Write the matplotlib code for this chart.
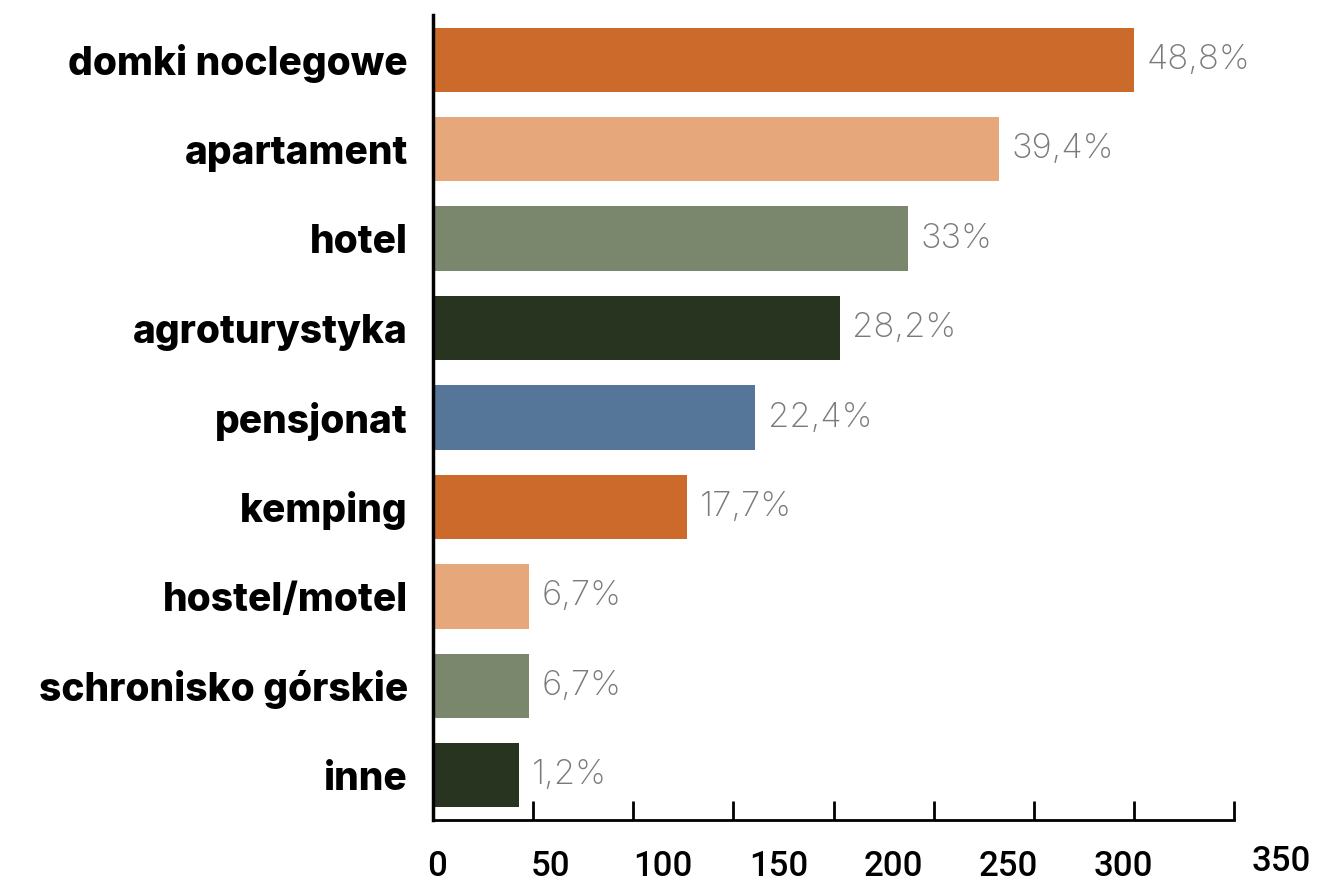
import matplotlib.pyplot as plt
import matplotlib.transforms as mtransforms

categories = ['domki noclegowe', 'apartament', 'hotel', 'agroturystyka', 'pensjonat',
              'kemping', 'hostel/motel', 'schronisko górskie', 'inne']
values = [350, 282.5, 237, 203, 161, 127, 48, 48, 43]
pct_labels = ['48,8%', '39,4%', '33%', '28,2%', '22,4%', '17,7%', '6,7%', '6,7%', '1,2%']
colors = ['#CC6A2B', '#E6A87A', '#7A876C', '#283420', '#557599',
          '#CC6A2B', '#E6A87A', '#7A876C', '#283420']
tick_vals = [0, 50, 100, 150, 200, 250, 300, 350, 400]
tick_texts = ['0', '50', '100', '150', '200', '250', '300', '350']
# where the (misaligned) tick labels sit in the original, in data units
tick_text_x = [2, 58.5, 115, 172.5, 230, 287.5, 345, 423.5]

fig = plt.figure(figsize=(13.21, 8.83), dpi=100)
ax = fig.add_axes([433 / 1321, 63 / 883, 801 / 1321, 805 / 883])

y = list(range(len(categories)))
ax.barh(y, values, height=0.72, color=colors)
ax.set_ylim(len(categories) - 0.5, -0.5)
ax.set_xlim(0, 400)

ax.set_yticks(y)
ax.set_yticklabels(categories, fontsize=28, fontweight='heavy', family=['Inter', 'DejaVu Sans'])
ax.tick_params(axis='y', length=0, pad=18)

ax.set_xticks(tick_vals)
ax.set_xticklabels([''] * len(tick_vals))
ax.tick_params(axis='x', direction='in', length=14, width=2, color='black')

for s in ['top', 'right']:
    ax.spines[s].set_visible(False)
ax.spines['left'].set_linewidth(2.5)
ax.spines['bottom'].set_linewidth(2)

for yi, v, lab in zip(y, values, pct_labels):
    ax.annotate(lab, (v, yi), xytext=(9, 0), textcoords='offset points',
                va='center', ha='left', fontsize=25, color='#7a7a7a',
                fontweight='light', family=['Inter', 'DejaVu Sans'])

trans = mtransforms.blended_transform_factory(ax.transData, ax.transAxes)
for i, (tx, tt) in enumerate(zip(tick_text_x, tick_texts)):
    yy = -0.058 if i < 7 else -0.052
    ax.text(tx, yy, tt, transform=trans, ha='center', va='center', fontsize=25,
            family=['Roboto', 'DejaVu Sans'], fontweight='medium')

fig.savefig('out.png', dpi=100)
